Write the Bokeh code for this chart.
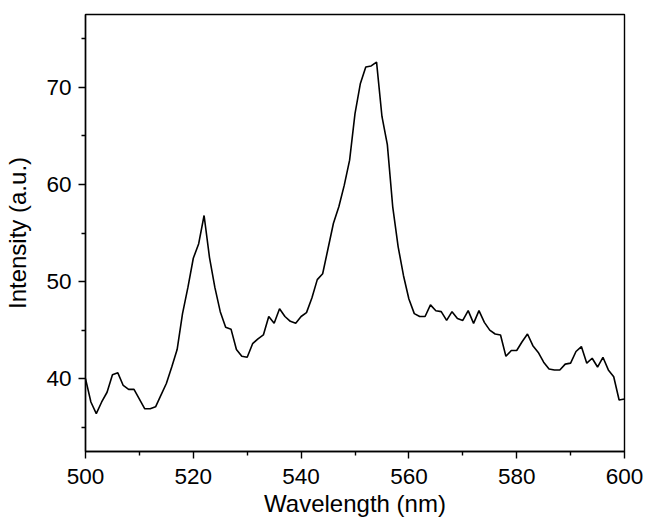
from bokeh.plotting import figure
from bokeh.models import Range1d, FixedTicker
from bokeh.embed import file_html
from bokeh.resources import INLINE

wavelength = list(range(500, 601))
intensity = [
    40.0, 37.6, 36.4, 37.6, 38.6, 40.4, 40.6, 39.3, 38.9, 38.9,
    37.9, 36.9, 36.9, 37.1, 38.3, 39.5, 41.2, 43.0, 46.7, 49.4,
    52.4, 53.9, 56.8, 52.5, 49.4, 46.9, 45.3, 45.1, 43.0, 42.3,
    42.2, 43.6, 44.1, 44.5, 46.4, 45.7, 47.2, 46.4, 45.9, 45.7,
    46.4, 46.8, 48.3, 50.2, 50.8, 53.4, 56.0, 57.7, 59.9, 62.5,
    67.3, 70.4, 72.1, 72.2, 72.6, 67.0, 64.1, 57.7, 53.6, 50.6,
    48.2, 46.7, 46.4, 46.4, 47.6, 47.0, 46.9, 46.0, 46.9, 46.2,
    46.0, 47.0, 45.7, 47.0, 45.8, 45.0, 44.6, 44.5, 42.3, 42.9,
    42.9, 43.8, 44.6, 43.4, 42.7, 41.7, 41.0, 40.9, 40.9, 41.5,
    41.6, 42.8, 43.3, 41.6, 42.1, 41.2, 42.2, 40.9, 40.2, 37.8,
    37.9,
]
x_ticks = [500, 520, 540, 560, 580, 600]
x_minor = [510, 530, 550, 570, 590]
y_ticks = [40, 50, 60, 70]
y_minor = [35, 45, 55, 65, 75]

FONT = "Liberation Sans"

p = figure(width=646, height=521, output_backend="svg", toolbar_location=None,
           x_range=Range1d(500, 600), y_range=Range1d(32.5, 77.5),
           min_border_left=85, min_border_right=22, min_border_top=14, min_border_bottom=70)

p.line(wavelength, intensity, line_color="black", line_width=1.6)

p.grid.visible = False
p.outline_line_color = "black"
p.outline_line_width = 1.4
p.outline_line_alpha = 1.0

p.xaxis.ticker = FixedTicker(ticks=x_ticks, minor_ticks=x_minor)
p.yaxis.ticker = FixedTicker(ticks=y_ticks, minor_ticks=y_minor)
p.xaxis.axis_label = "Wavelength (nm)"
p.yaxis.axis_label = "Intensity (a.u.)"

for ax in (p.xaxis, p.yaxis):
    ax.axis_line_color = "black"
    ax.axis_line_width = 1.4
    ax.major_tick_line_color = "black"
    ax.minor_tick_line_color = "black"
    ax.major_tick_line_width = 1.4
    ax.minor_tick_line_width = 1.4
    ax.major_tick_in = 0
    ax.major_tick_out = 7
    ax.minor_tick_in = 0
    ax.minor_tick_out = 4
    ax.major_label_text_font = FONT
    ax.major_label_text_font_size = "22.5px"
    ax.major_label_text_color = "black"
    ax.axis_label_text_font = FONT
    ax.axis_label_text_font_size = "24px"
    ax.axis_label_text_font_style = "normal"
    ax.axis_label_text_color = "black"

p.xaxis.major_label_standoff = 10
p.xaxis.axis_label_standoff = 3
p.yaxis.major_label_standoff = 7
p.yaxis.axis_label_standoff = 12

open("out.html", "w").write(file_html(p, INLINE))
